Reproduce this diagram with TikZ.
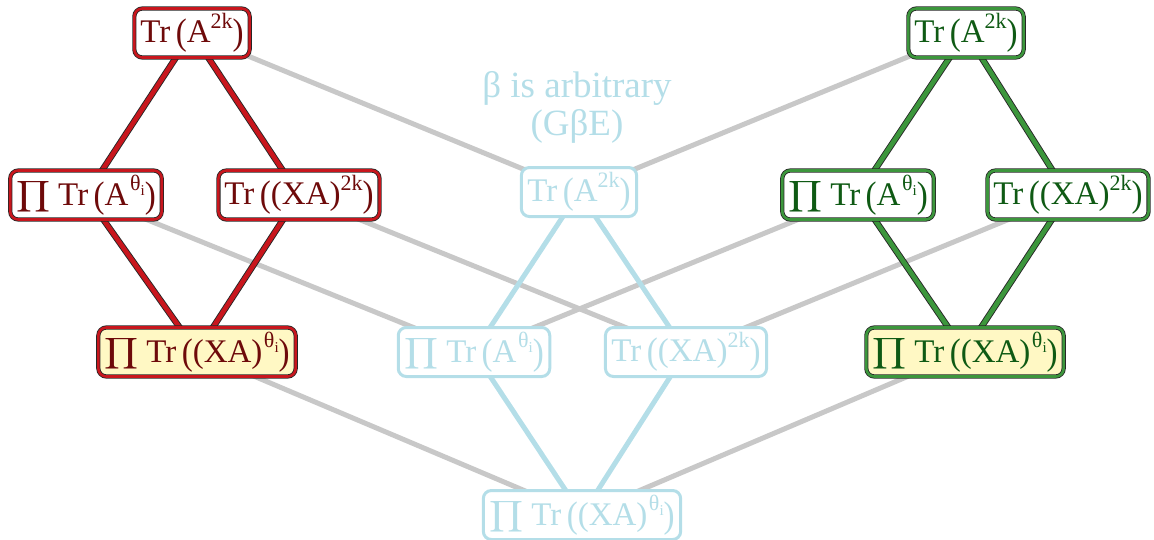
\documentclass[tikz,border=0pt]{standalone}
\usepackage{fontspec}
\setmainfont{Liberation Serif}
\usepackage{graphicx}
\pgfdeclarelayer{bg}
\pgfsetlayers{bg,main}
\definecolor{myred}{HTML}{C8161D}
\definecolor{redtext}{HTML}{6E0A0A}
\definecolor{mygreen}{HTML}{3C963C}
\definecolor{greentext}{HTML}{0F5A14}
\definecolor{lb}{HTML}{B4DEE8}
\definecolor{edgegray}{HTML}{C8C8C8}
\definecolor{paleyellow}{HTML}{FFF8C4}
\newcommand{\bigP}{\raisebox{-5pt}{\resizebox{34pt}{31pt}{$\displaystyle\prod$}}\hspace{8pt}}
\newcommand{\lp}{\raisebox{-0.06em}{\scalebox{1}[1.12]{(}}}
\newcommand{\rp}{\raisebox{-0.06em}{\scalebox{1}[1.12]{)}}}
\newcommand{\suptk}{\raisebox{0.42em}{\fontsize{22}{22}\selectfont 2k}}
\newcommand{\supth}{\hspace{1.5pt}\raisebox{0.45em}{\fontsize{22}{22}\selectfont θ\raisebox{-0.22em}{\fontsize{15}{15}\selectfont i}}}
\newcommand{\labA}{Tr\,\lp A\suptk\rp}
\newcommand{\labB}{\bigP Tr\,\lp A\supth\rp}
\newcommand{\labC}{Tr\,\lp(XA)\suptk\rp}
\newcommand{\labD}{\bigP Tr\,\lp(XA)\supth\rp}
\tikzset{
  box/.style={rounded corners=8pt, fill=white, inner xsep=6pt, inner ysep=0pt,
    minimum height=49pt, font=\fontsize{33}{36}\selectfont},
  rednode/.style={box, draw=black!85, line width=0.8pt, double=myred, double distance=2.6pt, text=redtext},
  greennode/.style={box, draw=black!85, line width=0.8pt, double=mygreen, double distance=2.6pt, text=greentext},
  bluenode/.style={box, draw=lb, line width=3pt, text=lb},
  rededge/.style={draw=black!85, line width=0.9pt, double=myred, double distance=4.6pt},
  greenedge/.style={draw=black!85, line width=0.9pt, double=mygreen, double distance=4.6pt},
  blueedge/.style={draw=lb, line width=5pt},
  grayedge/.style={draw=edgegray, line width=5pt},
}
\begin{document}
\begin{tikzpicture}[x=1pt,y=-1pt]
\useasboundingbox (0,0) rectangle (1154,539);
% left (red)
\node[rednode] (Lt) at (192,33) {\labA};
\node[rednode] (Lml) at (86,195) {\labB};
\node[rednode] (Lmr) at (299,195) {\labC};
\node[rednode, fill=paleyellow] (Lb) at (197,352) {\labD};
% centre (light blue)
\node[bluenode] (Ct) at (579,192) {\labA};
\node[bluenode] (Cml) at (474,352) {\labB};
\node[bluenode] (Cmr) at (686,352) {\labC};
\node[bluenode] (Cb) at (582,515) {\labD};
\node[text=lb, font=\fontsize{37}{38}\selectfont, align=center] (lab) at (577,107) {β is arbitrary\\(GβE)};
% right (green)
\node[greennode] (Rt) at (966,33) {\labA};
\node[greennode] (Rml) at (858,195) {\labB};
\node[greennode] (Rmr) at (1068,195) {\labC};
\node[greennode, fill=paleyellow] (Rb) at (965,352) {\labD};
\begin{pgfonlayer}{bg}
  \draw[grayedge] (Lt.center) -- (Ct.center);
  \draw[grayedge] (Ct.center) -- (Rt.center);
  \draw[grayedge] (Lml.center) -- (Cml.center);
  \draw[grayedge] (Lmr.center) -- (Cmr.center);
  \draw[grayedge] (Cml.center) -- (Rml.center);
  \draw[grayedge] (Cmr.center) -- (Rmr.center);
  \draw[grayedge] (Lb.center) -- (Cb.center);
  \draw[grayedge] (Cb.center) -- (Rb.center);
  \draw[blueedge] (Ct.center) -- (Cml.center);
  \draw[blueedge] (Ct.center) -- (Cmr.center);
  \draw[blueedge] (Cml.center) -- (Cb.center);
  \draw[blueedge] (Cmr.center) -- (Cb.center);
  \draw[rededge] (Lt.center) -- (Lml.center);
  \draw[rededge] (Lt.center) -- (Lmr.center);
  \draw[rededge] (Lml.center) -- (Lb.center);
  \draw[rededge] (Lmr.center) -- (Lb.center);
  \draw[greenedge] (Rt.center) -- (Rml.center);
  \draw[greenedge] (Rt.center) -- (Rmr.center);
  \draw[greenedge] (Rml.center) -- (Rb.center);
  \draw[greenedge] (Rmr.center) -- (Rb.center);
\end{pgfonlayer}
\end{tikzpicture}
\end{document}
